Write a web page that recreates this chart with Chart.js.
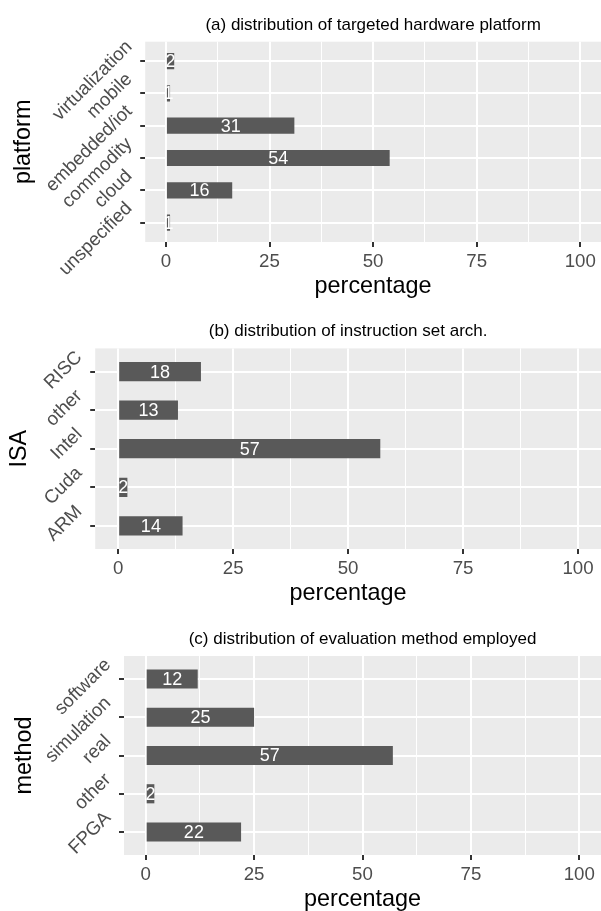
<!DOCTYPE html>
<html>
<head>
<meta charset="utf-8">
<title>Survey distributions</title>
<script src="https://cdn.jsdelivr.net/npm/chart.js@4/dist/chart.umd.min.js"></script>
<style>
  html, body { margin: 0; padding: 0; background: #ffffff; width: 601px; height: 911px; overflow: hidden; }
  canvas { position: absolute; left: 0; }
</style>
</head>
<body>
<canvas id="panelA"></canvas>
<canvas id="panelB"></canvas>
<canvas id="panelC"></canvas>
<script>
// ---- data ----
const platformLabels = ['virtualization', 'mobile', 'embedded/iot', 'commodity', 'cloud', 'unspecified'];
const platformPct    = [2, 1, 31, 54, 16, 1];

const isaLabels = ['RISC', 'other', 'Intel', 'Cuda', 'ARM'];
const isaPct    = [18, 13, 57, 2, 14];

const methodLabels = ['software', 'simulation', 'real', 'other', 'FPGA'];
const methodPct    = [12, 25, 57, 2, 22];

const xMajorTicks = [0, 25, 50, 75, 100];
const xMinorTicks = [12.5, 37.5, 62.5, 87.5];

const panelTitles = [
  '(a) distribution of targeted hardware platform',
  '(b) distribution of instruction set arch.',
  '(c) distribution of evaluation method employed'
];
const yTitles = ['platform', 'ISA', 'method'];
const xTitle = 'percentage';

// ---- styling ----
const FONT = "'Liberation Sans', Arial, Helvetica, sans-serif";
Chart.defaults.font.family = FONT;

const panelBackground = {
  id: 'panelBackground',
  beforeDraw(chart) {
    const { ctx, chartArea: a } = chart;
    ctx.save();
    ctx.fillStyle = '#EBEBEB';
    ctx.fillRect(a.left, a.top, a.right - a.left, a.bottom - a.top);
    ctx.restore();
  }
};

const barValueLabels = {
  id: 'barValueLabels',
  afterDatasetsDraw(chart) {
    const ctx = chart.ctx;
    const meta = chart.getDatasetMeta(0);
    const data = chart.data.datasets[0].data;
    ctx.save();
    ctx.font = '18px ' + FONT;
    ctx.fillStyle = '#FFFFFF';
    ctx.textAlign = 'center';
    ctx.textBaseline = 'middle';
    meta.data.forEach((bar, i) => {
      ctx.fillText(String(data[i].x), (bar.x + bar.base) / 2, bar.y + 1);
    });
    ctx.restore();
  }
};

const isMajor = v => xMajorTicks.includes(v);

function makePanel(id, labels, values, title, yTitle, g) {
  const canvas = document.getElementById(id);
  const height = Math.ceil(g.panelBottom - g.canvasTop + 60);
  canvas.width = 601;
  canvas.height = height;
  canvas.style.top = g.canvasTop + 'px';
  canvas.style.width = '601px';
  canvas.style.height = height + 'px';

  const titleArea = g.panelTop - g.canvasTop;
  const titleLine = 17 * 1.2;
  const titlePadTop = titleArea - 16.7 - titleLine / 2;
  const titlePadBottom = titleArea - titlePadTop - titleLine;

  return new Chart(canvas, {
    type: 'bar',
    data: {
      datasets: [{
        data: values.map((v, i) => ({ x: v, y: i })),
        backgroundColor: '#595959',
        borderWidth: 0,
        barPercentage: 0.5,
        categoryPercentage: 1
      }]
    },
    options: {
      indexAxis: 'y',
      responsive: false,
      animation: false,
      layout: { padding: { left: 0, right: 601 - g.panelRight, top: 0, bottom: 0 } },
      plugins: {
        legend: { display: false },
        tooltip: { enabled: false },
        title: {
          display: true,
          text: title,
          fullSize: false,
          color: '#000000',
          font: { size: 17, weight: 'normal', lineHeight: 1.2 },
          padding: { top: titlePadTop, bottom: titlePadBottom }
        }
      },
      scales: {
        x: {
          type: 'linear',
          position: 'bottom',
          min: -5,
          max: 105,
          afterBuildTicks: s => {
            s.ticks = [...xMajorTicks, ...xMinorTicks].sort((a, b) => a - b).map(v => ({ value: v }));
          },
          afterFit: s => { s.height = 60; },
          border: { display: false },
          grid: {
            color: '#FFFFFF',
            lineWidth: c => (c.tick && isMajor(c.tick.value)) ? 2 : 1,
            drawTicks: true,
            tickLength: 5,
            tickWidth: 2,
            tickColor: c => (c.tick && isMajor(c.tick.value)) ? '#333333' : 'rgba(0,0,0,0)'
          },
          ticks: {
            autoSkip: false,
            maxRotation: 0,
            padding: 4,
            color: '#4D4D4D',
            font: { size: 18.7, lineHeight: 1.2 },
            callback: v => isMajor(v) ? String(v) : ''
          },
          title: {
            display: true,
            text: xTitle,
            color: '#000000',
            font: { size: 23.4, lineHeight: 1.2 },
            padding: { top: 0, bottom: 1.2 }
          }
        },
        y: {
          type: 'linear',
          reverse: true,
          offset: false,
          min: -0.6,
          max: labels.length - 0.4,
          afterBuildTicks: s => { s.ticks = labels.map((_, i) => ({ value: i })); },
          afterFit: s => { s.width = g.panelLeft; },
          border: { display: false },
          grid: {
            offset: false,
            color: '#FFFFFF',
            lineWidth: 2,
            tickLength: 5,
            tickWidth: 2,
            tickColor: '#333333'
          },
          ticks: {
            autoSkip: false,
            minRotation: 45,
            maxRotation: 45,
            padding: 11,
            labelOffset: -17,
            color: '#4D4D4D',
            font: { size: 18.7, lineHeight: 1.2 },
            callback: v => labels[v]
          },
          title: {
            display: true,
            text: yTitle,
            color: '#000000',
            font: { size: 23.4, lineHeight: 1.2 },
            padding: { top: g.yTitleCenter - 14.04, bottom: 0 }
          }
        }
      }
    },
    plugins: [panelBackground, barValueLabels]
  });
}

makePanel('panelA', platformLabels, platformPct, panelTitles[0], yTitles[0],
  { canvasTop: 0, panelTop: 41.7, panelBottom: 242, panelLeft: 145.2, panelRight: 603.5, yTitleCenter: 24 });
makePanel('panelB', isaLabels, isaPct, panelTitles[1], yTitles[1],
  { canvasTop: 306, panelTop: 348.4, panelBottom: 549, panelLeft: 95.2, panelRight: 603, yTitleCenter: 20 });
makePanel('panelC', methodLabels, methodPct, panelTitles[2], yTitles[2],
  { canvasTop: 613, panelTop: 656, panelBottom: 855, panelLeft: 124, panelRight: 602, yTitleCenter: 25 });
</script>
</body>
</html>
